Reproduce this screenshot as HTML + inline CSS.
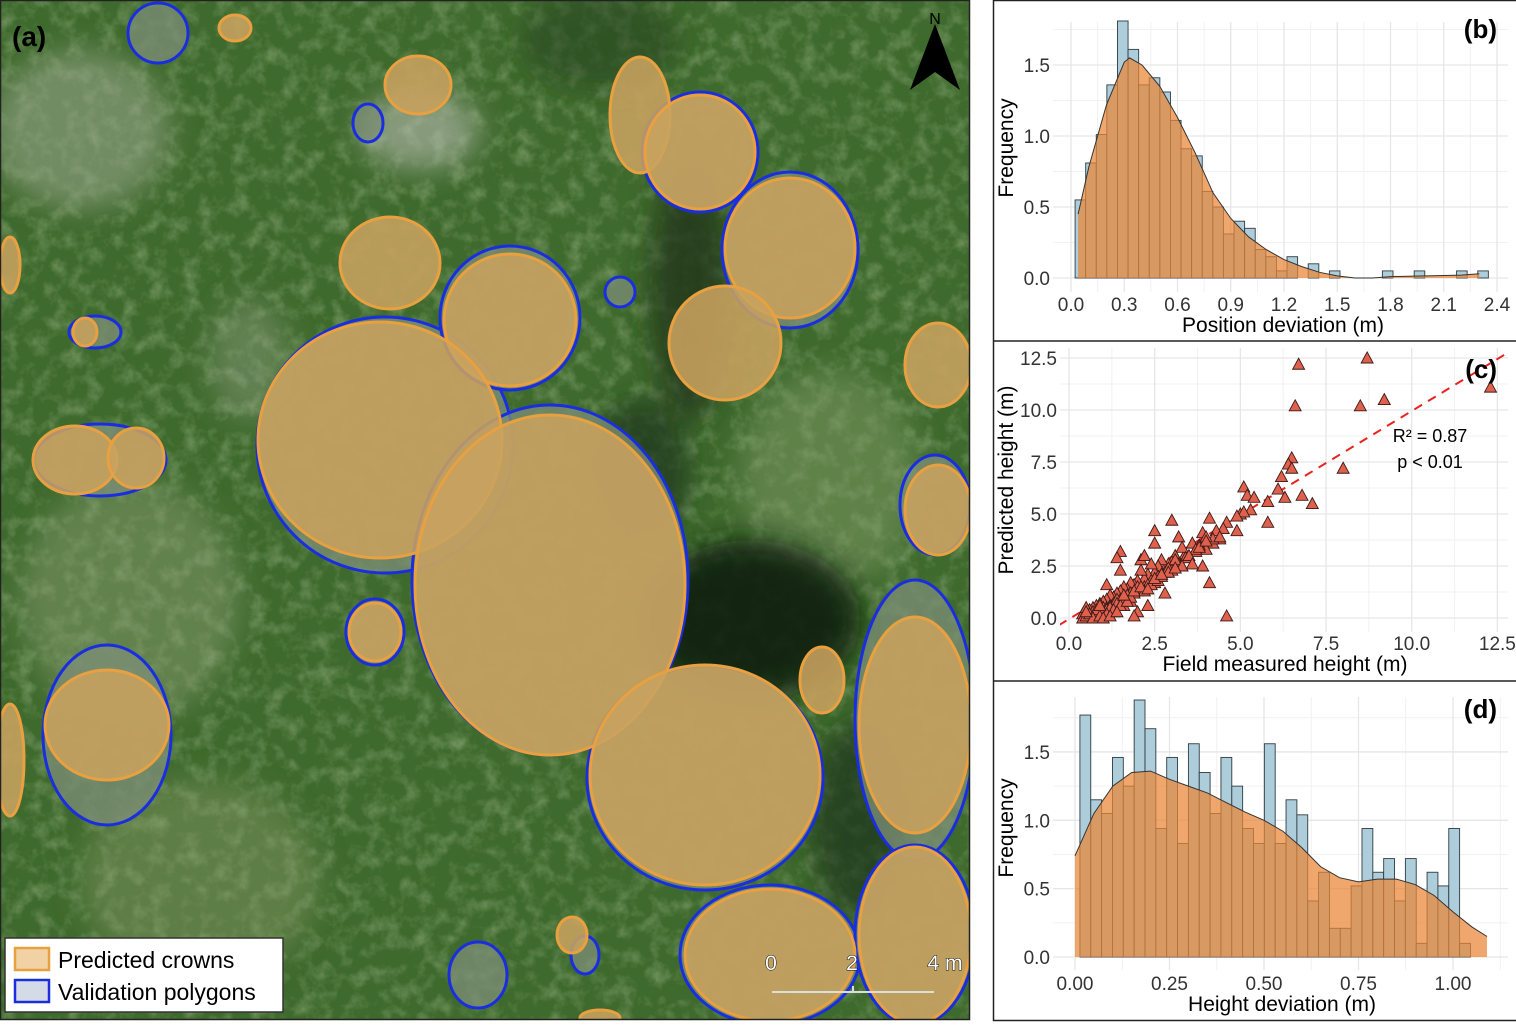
<!DOCTYPE html>
<html><head><meta charset="utf-8"><style>
body{margin:0;background:#fff;}
svg text{font-family:"Liberation Sans",Arial,sans-serif;}
</style></head><body>
<svg id="fig" width="1516" height="1022" viewBox="0 0 1516 1022" xmlns="http://www.w3.org/2000/svg">
<defs>
<filter id="grass" x="0" y="0" width="100%" height="100%">
<feTurbulence type="fractalNoise" baseFrequency="0.06" numOctaves="4" seed="3"/>
<feColorMatrix type="matrix" values="0 0 0 0 0.42  0 0 0 0 0.56  0 0 0 0 0.32  0 0 0 1.6 -0.7"/>
</filter>
<filter id="blur8"><feGaussianBlur stdDeviation="14"/></filter>
<clipPath id="mapclip"><rect x="1" y="1" width="968" height="1018"/></clipPath>
<clipPath id="cclip"><rect x="1060" y="345" width="448" height="290"/></clipPath>
</defs>

<g clip-path="url(#mapclip)">
<rect x="0" y="0" width="970" height="1020" fill="#3f6a2d"/>
<rect x="0" y="0" width="970" height="1020" filter="url(#grass)" opacity="0.55"/>
<g filter="url(#blur8)">
<ellipse cx="80" cy="130" rx="90" ry="80" fill="#9aa78e" opacity="0.55"/>
<ellipse cx="420" cy="130" rx="60" ry="40" fill="#b7bdb0" opacity="0.6"/>
<ellipse cx="130" cy="600" rx="110" ry="120" fill="#8f9f78" opacity="0.45"/>
<ellipse cx="200" cy="880" rx="120" ry="100" fill="#8c9d6c" opacity="0.4"/>
<ellipse cx="830" cy="480" rx="90" ry="110" fill="#86a06a" opacity="0.45"/>
<ellipse cx="250" cy="360" rx="40" ry="60" fill="#97a58a" opacity="0.4"/>
</g>
<g filter="url(#blur8)">
<ellipse cx="690" cy="290" rx="40" ry="130" fill="#1e3517" opacity="0.8"/>
<ellipse cx="640" cy="470" rx="50" ry="70" fill="#1e3517" opacity="0.7"/>
<ellipse cx="750" cy="620" rx="110" ry="80" fill="#0f1f0c" opacity="0.9"/>
<ellipse cx="860" cy="820" rx="50" ry="100" fill="#1e3517" opacity="0.7"/>
<ellipse cx="600" cy="40" rx="80" ry="50" fill="#2a4522" opacity="0.6"/>
</g>
<g fill="#7d8f78" fill-opacity="0.75" stroke="#1a2ee0" stroke-width="3">
<ellipse cx="158" cy="33" rx="30" ry="30"/>
<ellipse cx="368" cy="123" rx="15" ry="19"/>
<ellipse cx="620" cy="292" rx="15" ry="15"/>
<ellipse cx="478" cy="975" rx="29" ry="33"/>
<ellipse cx="585" cy="955" rx="14" ry="19"/>
<ellipse cx="95" cy="332" rx="26" ry="16"/>
<ellipse cx="100" cy="460" rx="66" ry="36"/>
<ellipse cx="385" cy="445" rx="128" ry="128"/>
<ellipse cx="550" cy="580" rx="138" ry="175"/>
<ellipse cx="705" cy="778" rx="118" ry="112"/>
<ellipse cx="510" cy="318" rx="70" ry="72"/>
<ellipse cx="790" cy="250" rx="68" ry="78"/>
<ellipse cx="700" cy="152" rx="58" ry="60"/>
<ellipse cx="107" cy="735" rx="64" ry="90"/>
<ellipse cx="375" cy="632" rx="29" ry="33"/>
<ellipse cx="915" cy="720" rx="60" ry="140"/>
<ellipse cx="935" cy="505" rx="35" ry="50"/>
<ellipse cx="770" cy="955" rx="90" ry="70"/>
<ellipse cx="915" cy="935" rx="60" ry="90"/>
</g>
<g fill="#c8a25e" fill-opacity="0.88" stroke="#e8a040" stroke-width="3">
<ellipse cx="235" cy="28" rx="16" ry="13"/>
<ellipse cx="418" cy="85" rx="33" ry="29"/>
<ellipse cx="640" cy="115" rx="30" ry="58"/>
<ellipse cx="700" cy="152" rx="55" ry="57"/>
<ellipse cx="390" cy="263" rx="50" ry="46"/>
<ellipse cx="510" cy="320" rx="66" ry="66"/>
<ellipse cx="790" cy="248" rx="65" ry="70"/>
<ellipse cx="725" cy="343" rx="56" ry="57"/>
<ellipse cx="938" cy="365" rx="33" ry="42"/>
<ellipse cx="85" cy="332" rx="12" ry="14"/>
<ellipse cx="75" cy="460" rx="42" ry="34"/>
<ellipse cx="136" cy="458" rx="28" ry="30"/>
<ellipse cx="380" cy="440" rx="122" ry="118"/>
<ellipse cx="550" cy="585" rx="135" ry="170"/>
<ellipse cx="938" cy="510" rx="33" ry="45"/>
<ellipse cx="375" cy="632" rx="26" ry="29"/>
<ellipse cx="822" cy="680" rx="22" ry="33"/>
<ellipse cx="107" cy="725" rx="62" ry="55"/>
<ellipse cx="10" cy="265" rx="10" ry="28"/>
<ellipse cx="10" cy="760" rx="14" ry="56"/>
<ellipse cx="705" cy="775" rx="115" ry="110"/>
<ellipse cx="915" cy="725" rx="56" ry="108"/>
<ellipse cx="770" cy="955" rx="85" ry="66"/>
<ellipse cx="915" cy="935" rx="56" ry="88"/>
<ellipse cx="572" cy="935" rx="15" ry="18"/>
<ellipse cx="600" cy="1018" rx="20" ry="8"/>
</g>
<text x="12" y="46" font-size="28" font-weight="bold" fill="#000">(a)</text>
<g>
<text x="935" y="24" font-size="16" fill="#000" text-anchor="middle">N</text>
<polygon points="935,24 910,90 935,72" fill="#000"/>
<polygon points="935,24 960,90 935,72" fill="#000"/>
</g>
<g font-size="21" fill="#fff" stroke="#111" stroke-width="1" paint-order="stroke">
<text x="771" y="970" text-anchor="middle">0</text>
<text x="852" y="970" text-anchor="middle">2</text>
<text x="945" y="970" text-anchor="middle">4 m</text>
<line x1="772" y1="992" x2="934" y2="992" stroke="#ddd" stroke-width="2"/>
<line x1="853" y1="986" x2="853" y2="992" stroke="#ddd" stroke-width="2"/>
</g>
<g>
<rect x="5" y="938" width="278" height="74" fill="#fff" stroke="#333" stroke-width="1.5"/>
<rect x="15" y="948" width="34" height="22" fill="#f1d2a4" stroke="#e8a040" stroke-width="2.5"/>
<text x="58" y="968" font-size="23" fill="#000">Predicted crowns</text>
<rect x="15" y="980" width="34" height="22" fill="#d5dbe6" stroke="#1a2ee0" stroke-width="2.5"/>
<text x="58" y="1000" font-size="23" fill="#000">Validation polygons</text>
</g>
</g>
<rect x="0.5" y="0.5" width="969" height="1019" fill="none" stroke="#222" stroke-width="1.5"/>

<rect x="993.5" y="0.5" width="1521" height="1020" fill="none" stroke="#222" stroke-width="1.5"/>
<line x1="993" y1="341" x2="1516" y2="341" stroke="#222" stroke-width="1.5"/>
<line x1="993" y1="681" x2="1516" y2="681" stroke="#222" stroke-width="1.5"/>
<g id="pb"></g>
<g id="pc"></g>
<g id="pd"></g>
</svg>
<script>
// ---- Panel b data ----
const bBinStart = 0.023;
const bBinWidth = 0.0597;
const bCounts = [0.55,0.81,1.01,1.36,1.81,1.61,1.36,1.41,1.31,1.11,0.91,0.86,0.61,0.50,0.31,0.40,0.35,0.20,0.15,0.05,0.15,0.0,0.10,0.0,0.05,0,0,0,0,0.05,0,0,0.05,0,0,0,0.05,0,0.05];
const bDensX = [0.04,0.1,0.2,0.3,0.33,0.4,0.5,0.6,0.7,0.8,0.9,1.0,1.1,1.2,1.3,1.4,1.5,1.6,1.7,1.8,2.0,2.2,2.3];
const bDensY = [0.45,0.78,1.22,1.52,1.55,1.5,1.35,1.13,0.88,0.6,0.42,0.29,0.2,0.13,0.08,0.04,0.015,0.0,0.0,0.01,0.015,0.02,0.03];
const bXTicks = [0.0,0.3,0.6,0.9,1.2,1.5,1.8,2.1,2.4];
const bXLabels = ["0.0","0.3","0.6","0.9","1.2","1.5","1.8","2.1","2.4"];
const bYTicks = [0,0.5,1.0,1.5];
const bYLabels = ["0.0","0.5","1.0","1.5"];
// ---- Panel c data ----
const cX = [6.7,8.7,12.3,6.6,8.5,9.2,6.5,6.4,6.5,8.0,6.2,6.1,5.1,5.2,5.4,6.3,6.8,7.1,5.8,5.3,5.0,5.1,4.9,5.8,4.9,4.6,4.1,3.0,2.5,2.5,3.2,1.5,1.4,1.5,2.1,2.2,4.6,4.1,1.1,3.9,2.8,2.0,1.9,2.3,
4.5,4.4,4.3,4.2,4.0,3.9,3.8,3.7,3.6,3.5,3.4,3.3,3.1,3.0,2.9,2.8,2.7,2.6,2.5,2.4,2.3,2.2,2.1,2.0,1.9,1.8,1.7,1.6,1.5,1.4,1.3,1.2,1.1,1.0,0.9,0.8,0.7,0.6,0.5,0.4,
4.2,4.0,3.7,3.4,3.2,3.0,2.8,2.6,2.4,2.2,2.0,1.8,1.6,1.4,1.2,1.0,0.8,0.6,0.5,
3.8,3.5,3.1,2.9,2.7,2.5,2.3,2.1,1.9,1.7,1.5,1.3,1.1,0.9,0.7,0.6,0.4,1.0,1.3,1.6,1.8,2.4,2.6,2.9,3.3,3.6,4.0,4.4,1.2,0.9,0.7,1.4,1.7,2.0,2.2,2.7,3.1,0.5,0.8,1.1,
0.6,0.8,1.0,1.2,1.4,1.6,1.8,0.7,0.9,1.1,1.3,1.5,1.7,1.9,2.1,2.3,2.5,2.7,1.0,1.2,1.4,1.6,0.5,0.9];
const cY = [12.2,12.5,11.1,10.2,10.2,10.5,7.7,7.4,7.2,7.2,6.8,6.2,6.3,5.9,5.8,5.8,5.9,5.5,5.6,5.2,5.0,5.1,4.9,4.6,4.2,4.6,4.8,4.7,4.2,3.6,3.9,3.2,2.9,2.3,2.8,3.0,0.1,1.7,1.6,2.5,1.2,0.3,0.1,0.6,
4.3,3.8,4.2,3.6,3.3,4.1,3.5,3.2,3.6,2.9,3.1,3.4,3.0,2.7,2.6,2.4,2.8,2.5,2.2,2.6,2.1,1.9,2.3,1.8,1.6,1.7,1.4,1.5,1.3,1.2,1.0,1.1,0.9,0.8,0.7,0.6,0.5,0.4,0.3,0.2,
3.8,3.9,3.3,2.9,2.6,2.3,2.2,2.0,1.8,1.5,1.3,1.2,0.9,0.8,0.6,0.5,0.3,0.1,0.5,
3.4,3.0,2.8,2.4,2.1,1.7,1.6,1.4,1.2,1.0,0.9,0.7,0.5,0.4,0.3,0.1,0.0,0.2,0.3,0.6,0.8,1.6,1.8,2.2,2.5,2.6,3.7,3.9,0.6,0.2,0.1,0.9,1.1,1.5,1.3,2.0,2.4,0.1,0.0,0.4,
0.2,0.4,0.3,0.5,0.7,0.9,1.0,0.0,0.1,0.2,0.4,0.6,0.8,1.3,1.5,1.4,1.9,2.1,0.0,0.1,0.3,1.1,0.3,0.6];
const cTicks = [0,2.5,5,7.5,10,12.5];
const cLabels = ["0.0","2.5","5.0","7.5","10.0","12.5"];
const cFit = [1.0,-0.05]; // slope, intercept
// ---- Panel d data ----
const dBinStart = 0.013;
const dBinWidth = 0.0287;
const dCounts = [1.77,1.15,1.05,1.46,1.25,1.88,1.67,0.94,1.46,0.83,1.56,1.35,1.05,1.46,1.25,0.94,0.83,1.56,0.83,1.15,1.04,0.41,0.62,0.21,0.21,0.52,0.94,0.62,0.72,0.41,0.72,0.10,0.62,0.52,0.94,0.10,0.0];
const dDensX = [0,0.05,0.1,0.15,0.2,0.25,0.3,0.35,0.4,0.45,0.5,0.55,0.6,0.65,0.7,0.75,0.8,0.85,0.9,0.95,1.0,1.05,1.09];
const dDensY = [0.74,1.05,1.25,1.35,1.36,1.3,1.25,1.2,1.13,1.06,1.0,0.92,0.8,0.66,0.58,0.55,0.57,0.57,0.53,0.45,0.33,0.22,0.15];
const dXTicks = [0,0.25,0.5,0.75,1.0];
const dXLabels = ["0.00","0.25","0.50","0.75","1.00"];
const dYTicks = [0,0.5,1.0,1.5];
const dYLabels = ["0.0","0.5","1.0","1.5"];

const NS = "http://www.w3.org/2000/svg";
function mk(parent, tag, attrs, text){
  const e = document.createElementNS(NS, tag);
  for (const k in attrs) e.setAttribute(k, attrs[k]);
  if (text !== undefined) e.textContent = text;
  parent.appendChild(e);
  return e;
}
function grid(g, xs, ys, x0, x1, y0, y1, xmaj, xmin, ymaj, ymin){
  xmin.forEach(v=>{ const l=mk(g,'line',{x1:xs(v),x2:xs(v),y1:y0,y2:y1,stroke:'#f1f1f1','stroke-width':1});
      });
  ymin.forEach(v=>{ const l=mk(g,'line',{x1:x0,x2:x1,y1:ys(v),y2:ys(v),stroke:'#f1f1f1','stroke-width':1});
      });
  xmaj.forEach(v=>{ const l=mk(g,'line',{x1:xs(v),x2:xs(v),y1:y0,y2:y1,stroke:'#e6e6e6','stroke-width':1.3});
      });
  ymaj.forEach(v=>{ const l=mk(g,'line',{x1:x0,x2:x1,y1:ys(v),y2:ys(v),stroke:'#e6e6e6','stroke-width':1.3});
      });
}
function ticks(g, xs, ys, xt, xl, yt, yl, xLabY, yLabX){
  xt.forEach((v,i)=>{ const t=mk(g,'text',{x:xs(v),y:xLabY,'font-size':19,fill:'#333','text-anchor':'middle'},xl[i]);
      });
  yt.forEach((v,i)=>{ const t=mk(g,'text',{x:yLabX,y:ys(v)+7,'font-size':19,fill:'#333','text-anchor':'end'},yl[i]);
      });
}
function titles(g, xt, xx, xy, yt, yx, yy, lab, ly){
  const a=mk(g,'text',{x:xx,y:xy,'font-size':21,fill:'#000','text-anchor':'middle'},xt);
   
  const b=mk(g,'text',{x:yx,y:yy,'font-size':21,fill:'#000','text-anchor':'middle',transform:`rotate(-90 ${yx} ${yy})`},yt);
   
  const c=mk(g,'text',{x:1497,y:ly,'font-size':26,'font-weight':'bold',fill:'#000','text-anchor':'end'},lab);
   
}
function hist(g, xs, ys, start, w, counts, dx, dy){
  counts.forEach((c,i)=>{
    const xa=xs(start+i*w), xb=xs(start+(i+1)*w);
    const r=mk(g,'rect',{x:xa,y:ys(c),width:xb-xa,height:ys(0)-ys(c),fill:'#aecddb',stroke:'#2e3c42','stroke-width':0.9});
     
  });
  let d=`M${xs(dx[0])},${ys(0)}`;
  dx.forEach((v,i)=>{ d+=` L${xs(v)},${ys(dy[i])}`; });
  d+=` L${xs(dx[dx.length-1])},${ys(0)} Z`;
  const a=mk(g,'path',{d:d,fill:'#e98535','fill-opacity':0.72,stroke:'none'});
   
  let l=`M${xs(dx[0])},${ys(dy[0])}`;
  dx.forEach((v,i)=>{ l+=` L${xs(v)},${ys(dy[i])}`; });
  const ln=mk(g,'path',{d:l,fill:'none',stroke:'#333','stroke-width':1});
   
}

// Panel b
(function(){
  const g=document.getElementById('pb');
  const xs=v=>1071+v*177.5, ys=v=>278-v*142;
  grid(g,xs,ys,1053,1508,22,292,bXTicks,[0.15,0.45,0.75,1.05,1.35,1.65,1.95,2.25],bYTicks,[0.25,0.75,1.25,1.75]);
  hist(g,xs,ys,bBinStart,bBinWidth,bCounts,bDensX,bDensY);
  ticks(g,xs,ys,bXTicks,bXLabels,bYTicks,bYLabels,311,1050);
  titles(g,'Position deviation (m)',1283,332,'Frequency',1013,148,'(b)',38);
})();
// Panel c
(function(){
  const g=document.getElementById('pc');
  const xs=v=>1069+v*34.27, ys=v=>618-v*20.8;
  grid(g,xs,ys,1060,1508,348,632,cTicks,[1.25,3.75,6.25,8.75,11.25],cTicks,[1.25,3.75,6.25,8.75,11.25]);
  const fx0=-0.3, fx1=13.2;
  const ln=mk(g,'line',{x1:xs(fx0),y1:ys(cFit[0]*fx0+cFit[1]),x2:xs(fx1),y2:ys(cFit[0]*fx1+cFit[1]),stroke:'#e8231f','stroke-width':2,'stroke-dasharray':'9,7','clip-path':'url(#cclip)'});
   
  cX.forEach((x,i)=>{
    const px=xs(x), py=ys(cY[i]);
    const p=mk(g,'polygon',{points:`${px},${py-6} ${px-6},${py+5} ${px+6},${py+5}`,fill:'#e0604e',stroke:'#3a1a16','stroke-width':0.9});
     
  });
  ticks(g,xs,ys,cTicks,cLabels,cTicks,cLabels,650,1057);
  titles(g,'Field measured height (m)',1285,671,'Predicted height (m)',1013,480,'(c)',378);
  const r=mk(g,'text',{x:1430,y:442,'font-size':18,fill:'#000','text-anchor':'middle'},'R² = 0.87');
   
  const p=mk(g,'text',{x:1430,y:468,'font-size':18,fill:'#000','text-anchor':'middle'},'p < 0.01');
   
})();
// Panel d
(function(){
  const g=document.getElementById('pd');
  const xs=v=>1075+v*378, ys=v=>957-v*136.7;
  grid(g,xs,ys,1053,1508,697,970,dXTicks,[0.125,0.375,0.625,0.875,1.125],dYTicks,[0.25,0.75,1.25,1.75]);
  hist(g,xs,ys,dBinStart,dBinWidth,dCounts,dDensX,dDensY);
  ticks(g,xs,ys,dXTicks,dXLabels,dYTicks,dYLabels,990,1050);
  titles(g,'Height deviation (m)',1282,1011,'Frequency',1013,828,'(d)',718);
})();
</script>
</body></html>
